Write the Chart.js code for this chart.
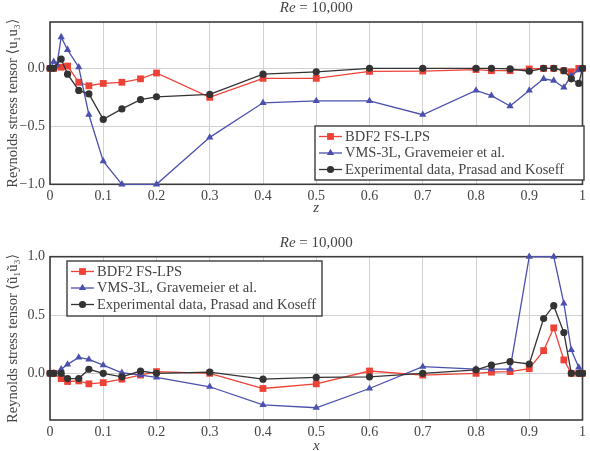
<!DOCTYPE html>
<html>
<head>
<meta charset="utf-8">
<script src="https://cdn.jsdelivr.net/npm/chart.js@4.4.1/dist/chart.umd.min.js"></script>
<style>
  body { margin: 0; background: #fff; }
  canvas { position: absolute; left: 0; }
  #topChart { top: 0; }
  #bottomChart { top: 225px; }
</style>
</head>
<body>
<canvas id="topChart" width="590" height="225"></canvas>
<canvas id="bottomChart" width="590" height="226"></canvas>
<script>
// measurement stations (z for the top plot, x for the bottom one)
const stations = [0, 0.007, 0.013, 0.021, 0.033, 0.054, 0.073, 0.1, 0.135, 0.17, 0.2, 0.3, 0.4, 0.5, 0.6, 0.7,
                  0.8, 0.829, 0.864, 0.9, 0.927, 0.946, 0.965, 0.979, 0.993, 1];

// top: <u1 u3> along z
const topBdf2 = [0, 0, null, 0.01, 0.02, -0.12, -0.15, -0.13, -0.12, -0.09, -0.04, -0.25, -0.086, -0.086, -0.026,
                 -0.023, -0.01, -0.02, -0.02, -0.005, 0, 0, -0.02, -0.03, 0, 0];
const topVms = [0, 0.057, 0.03, 0.27, 0.16, 0.01, -0.40, -0.80, -1.0, null, -1.0, -0.595, -0.297, -0.28, -0.28,
                -0.40, -0.19, -0.235, -0.325, -0.19, -0.09, -0.105, -0.165, -0.06, -0.015, 0];
const topExp = [0, 0, null, 0.08, -0.05, -0.19, -0.22, -0.44, -0.35, -0.27, -0.245, -0.225, -0.05, -0.03, 0,
                0, 0, 0, -0.005, -0.025, 0, 0, -0.02, -0.09, -0.13, 0];

// bottom: <u1 u3> along x
const bottomBdf2 = [0, 0, null, -0.045, -0.07, -0.065, -0.09, -0.08, -0.05, -0.015, 0.015, 0, -0.13, -0.09, 0.02,
                    -0.015, 0, 0.01, 0.015, 0.04, 0.195, 0.39, 0.115, 0, 0, 0];
const bottomVms = [0, 0, null, 0.035, 0.077, 0.137, 0.12, 0.07, 0.005, -0.015, -0.035, -0.115, -0.27, -0.295, -0.13,
                   0.057, 0.037, 0.037, 0.037, 1.0, null, 1.0, 0.6, 0.2, 0.05, 0];
const bottomExp = [0, 0, null, 0, -0.045, -0.045, 0.035, 0, -0.03, 0.02, 0, 0.01, -0.05, -0.035, -0.03,
                   0, 0.03, 0.07, 0.1, 0.08, 0.47, 0.58, 0.35, 0, 0, 0];

const seriesLabels = ['BDF2 FS-LPS', 'VMS-3L, Gravemeier et al.', 'Experimental data, Prasad and Koseff'];
const xTicks = [0, 0.1, 0.2, 0.3, 0.4, 0.5, 0.6, 0.7, 0.8, 0.9, 1];
const topYTicks = [-1, -0.5, 0];
const bottomYTicks = [0, 0.5, 1];
const titleVar = 'Re';
const titleValue = ' = 10,000';

const SERIF = '"Liberation Serif", "DejaVu Serif", serif';
const TEXT = '#444';
const FRAME = '#3c3c3c';
const GRID = '#d2d2d2';
const RED = '#ee4237';
const BLUE = '#4b50ae';
const BLACK = '#333333';

function marker(ctx, style, x, y, r) {
    ctx.beginPath();
    if (style === 'rect') {
        const s = r * Math.SQRT1_2;
        ctx.rect(x - s, y - s, 2 * s, 2 * s);
    } else if (style === 'triangle') {
        let a = 0;
        for (let k = 0; k < 3; k++) {
            ctx.lineTo(x + Math.sin(a) * r, y - Math.cos(a) * r);
            a += 2 * Math.PI / 3;
        }
        ctx.closePath();
    } else {
        ctx.arc(x, y, r, 0, Math.PI * 2);
    }
    ctx.fill();
}

// frame around the plot, title and boxed legend
const decor = {
    id: 'decor',
    beforeDatasetsDraw(chart) {
        const { ctx, chartArea: a } = chart;
        ctx.save();
        ctx.strokeStyle = FRAME;
        ctx.lineWidth = 1.6;
        ctx.strokeRect(a.left, a.top, a.right - a.left, a.bottom - a.top);
        ctx.restore();
    },
    afterDraw(chart, args, opts) {
        const { ctx, chartArea: a } = chart;
        ctx.save();
        ctx.fillStyle = TEXT;
        ctx.textBaseline = 'middle';
        ctx.textAlign = 'left';
        ctx.font = 'italic 15px ' + SERIF;
        const w1 = ctx.measureText(titleVar).width;
        ctx.font = '15px ' + SERIF;
        const w2 = ctx.measureText(titleValue).width;
        const x0 = (a.left + a.right) / 2 - (w1 + w2) / 2;
        const ty = a.top - 14;
        ctx.font = 'italic 15px ' + SERIF;
        ctx.fillText(titleVar, x0, ty);
        ctx.font = '15px ' + SERIF;
        ctx.fillText(titleValue, x0 + w1, ty);

        const L = opts.box;
        ctx.fillStyle = '#fff';
        ctx.fillRect(L.left, L.top, L.width, L.height);
        ctx.strokeStyle = FRAME;
        ctx.lineWidth = 1.4;
        ctx.strokeRect(L.left, L.top, L.width, L.height);
        ctx.font = '14.5px ' + SERIF;
        chart.data.datasets.forEach((ds, i) => {
            const y = L.top + 10.5 + i * 16.5;
            ctx.strokeStyle = ds.borderColor;
            ctx.lineWidth = ds.borderWidth;
            ctx.beginPath();
            ctx.moveTo(L.left + 4, y);
            ctx.lineTo(L.left + 27, y);
            ctx.stroke();
            ctx.fillStyle = ds.borderColor;
            marker(ctx, ds.pointStyle, L.left + 15.5, y, ds.pointRadius);
            ctx.fillStyle = TEXT;
            ctx.fillText(ds.label, L.left + 30, y + 0.5);
        });
        ctx.restore();
    }
};

function series(label, values, color, style, radius, order) {
    return {
        label,
        data: values.map((v, i) => ({ x: stations[i], y: v })),
        borderColor: color,
        backgroundColor: color,
        borderWidth: 1.3,
        pointStyle: style,
        pointRadius: radius,
        pointBorderWidth: 0,
        spanGaps: true,
        clip: false,
        order
    };
}

function makeChart(id, cfg) {
    return new Chart(document.getElementById(id), {
        type: 'line',
        data: {
            datasets: [
                series(seriesLabels[0], cfg.bdf2, RED, 'rect', 4.8, 3),
                series(seriesLabels[1], cfg.vms, BLUE, 'triangle', 4.2, 2),
                series(seriesLabels[2], cfg.exp, BLACK, 'circle', 3.6, 1)
            ]
        },
        options: {
            responsive: false,
            animation: false,
            layout: { padding: cfg.padding },
            plugins: {
                legend: { display: false },
                tooltip: { enabled: false },
                decor: { box: cfg.legendBox }
            },
            scales: {
                x: {
                    type: 'linear', min: 0, max: 1,
                    afterBuildTicks: s => { s.ticks = xTicks.map(v => ({ value: v })); },
                    afterFit: s => { s.height = cfg.xHeight; },
                    grid: { color: GRID, drawTicks: false },
                    border: { display: false },
                    ticks: {
                        padding: 4, color: TEXT, font: { family: SERIF, size: 14 },
                        callback: v => (v === 0 || v === 1) ? String(v) : v.toFixed(1)
                    },
                    title: {
                        display: true, text: cfg.xTitle, color: TEXT,
                        font: { family: SERIF, size: 15, style: 'italic', lineHeight: 0.6 },
                        padding: { top: 0, bottom: cfg.xTitlePad }
                    }
                },
                y: {
                    min: cfg.yMin, max: cfg.yMax,
                    afterBuildTicks: s => { s.ticks = cfg.yTicks.map(v => ({ value: v })); },
                    afterFit: s => { s.width = 50; },
                    grid: { color: GRID, drawTicks: false },
                    border: { display: false },
                    ticks: {
                        padding: 5, color: TEXT, font: { family: SERIF, size: 14 },
                        callback: v => v.toFixed(1).replace('-', '\u2212')
                    },
                    title: {
                        display: true, text: cfg.yTitle, color: TEXT,
                        font: { family: SERIF, size: 14.5, lineHeight: 1 },
                        padding: { top: 6, bottom: 0 }
                    }
                }
            }
        },
        plugins: [decor]
    });
}

makeChart('topChart', {
    bdf2: topBdf2, vms: topVms, exp: topExp,
    yMin: -1, yMax: 0.4, yTicks: topYTicks,
    xTitle: 'z', yTitle: 'Reynolds stress tensor \u27E8u\u2081u\u2083\u27E9',
    padding: { top: 22, right: 5, bottom: 0, left: 0 },
    xHeight: 40.7, xTitlePad: 12,
    legendBox: { left: 315, top: 126, width: 269, height: 54 }
});

makeChart('bottomChart', {
    bdf2: bottomBdf2, vms: bottomVms, exp: bottomExp,
    yMin: -0.4, yMax: 1, yTicks: bottomYTicks,
    xTitle: 'x', yTitle: 'Reynolds stress tensor \u27E8\u0169\u2081\u0169\u2083\u27E9',
    padding: { top: 31.7, right: 5, bottom: 0, left: 0 },
    xHeight: 31, xTitlePad: 0,
    legendBox: { left: 67, top: 36, width: 255, height: 55 }
});
</script>
</body>
</html>
